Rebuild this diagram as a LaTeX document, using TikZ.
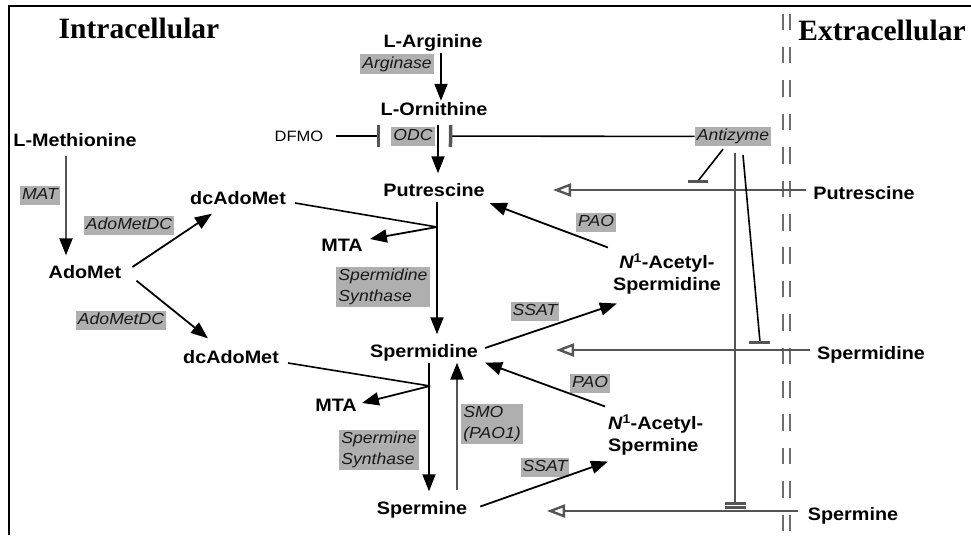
\documentclass[tikz,border=0pt]{standalone}
\usepackage{fontspec}
\setmainfont{Liberation Serif}
\setsansfont{Liberation Sans}[FakeStretch=1.1]
\usepackage{tikz}
\usetikzlibrary{arrows.meta,calc}
\definecolor{grisboite}{RGB}{175,175,175}
\definecolor{grisfil}{RGB}{85,85,85}
\definecolor{grismemb}{RGB}{110,110,110}

\begin{document}
\begin{tikzpicture}[x=1pt,y=-1pt,
    metab/.style={font=\sffamily\bfseries\fontsize{18}{22}\selectfont,inner sep=1pt,text height=13pt,text depth=4pt},
    metabdeux/.style={font=\sffamily\bfseries\fontsize{18}{22}\selectfont,inner sep=1pt},
    enz/.style={fill=grisboite,font=\sffamily\itshape\fontsize{16}{21}\selectfont,inner sep=2pt,text height=11.5pt,text depth=3.5pt,text=black!90},
    enzdeux/.style={fill=grisboite,font=\sffamily\itshape\fontsize{16}{21}\selectfont,inner sep=2pt,align=left,text=black!90},
    titre/.style={font=\bfseries\fontsize{29.5}{32}\selectfont,inner sep=0pt},
    rx/.style={-{Triangle[length=17pt,width=13pt]},line width=1.8pt},
    rxg/.style={-{Triangle[length=17pt,width=13pt,color=black]},line width=2.3pt,grisfil},
    lien/.style={line width=1.6pt},
    transp/.style={-{Triangle[open,length=18pt,width=13pt,fill=white]},line width=2.4pt,grisfil},
    inhib/.style={-{Bar[width=22pt,line width=3.5pt,color=grisfil]},line width=1.6pt},
    barre/.style={line width=3pt,grisfil},
    memb/.style={line width=2.5pt,grismemb,dash pattern=on 16.5pt off 16.9pt,dash phase=25.8pt}]
  \useasboundingbox (0,0) rectangle (971,535);
  \draw[line width=1.5pt] (9,535) -- (9,6) -- (971,6);
  \draw[memb] (783,6) -- (783,535);
  \draw[memb] (790,6) -- (790,535);

  \node[titre] (intra) at (139,28) {Intracellular};
  \node[titre] (extra) at (882,30) {Extracellular};

  \node[metab] (arg) at (433,43) {L-Arginine};
  \node[metab] (orn) at (434,110.5) {L-Ornithine};
  \node[metab] (putr) at (434,192) {Putrescine};
  \node[metab] (met) at (75,142) {L-Methionine};
  \node[metab] (adomet) at (85,274) {AdoMet};
  \node[metab] (dcA1) at (238,200) {dcAdoMet};
  \node[metab] (mta1) at (342,247) {MTA};
  \node[metab] (spd) at (424,353) {Spermidine};
  \node[metab] (dcA2) at (231,359) {dcAdoMet};
  \node[metab] (mta2) at (336,407) {MTA};
  \node[metab] (spm) at (422,509.5) {Spermine};
  \node[metabdeux,align=center] (acspd) at (667,274) {{\itshape N}\textsuperscript{1}-Acetyl-\\Spermidine};
  \node[metabdeux,align=left,anchor=west] (acspm) at (607,435) {{\itshape N}\textsuperscript{1}-Acetyl-\\Spermine};
  \node[metab] (putrX) at (864,194.5) {Putrescine};
  \node[metab] (spdX) at (871,355) {Spermidine};
  \node[metab] (spmX) at (853,516) {Spermine};
  \node[font=\sffamily\fontsize{15}{17}\selectfont,inner sep=1pt] (dfmo) at (299,136) {DFMO};

  \node[enz] (arginase) at (397,64) {Arginase};
  \node[enz] (odc) at (413,136) {ODC};
  \node[enz] (antiz) at (733,136.5) {Antizyme};
  \node[enz] (mat) at (40,195) {MAT};
  \node[enz] (adc1) at (129,225) {AdoMetDC};
  \node[enz] (adc2) at (121,320) {AdoMetDC};
  \node[enzdeux] (spdsyn) at (383,287) {Spermidine\\Synthase};
  \node[enzdeux] (spmsyn) at (379,450) {Spermine\\Synthase};
  \node[enz] (ssat1) at (535,311) {SSAT};
  \node[enz] (ssat2) at (545,467) {SSAT};
  \node[enz] (pao1) at (596,222) {PAO};
  \node[enz] (pao2) at (590,383) {PAO};
  \node[enzdeux] (smo) at (492,424) {SMO\\(PAO1)};

  \draw[rx] ([xshift=8pt]arg.south) -- ([xshift=7pt]orn.north);
  \draw[rx,shorten <=5pt,shorten >=9pt] ([xshift=4pt]orn.south) -- ([xshift=4pt]putr.north);
  \draw[inhib,shorten <=12pt,shorten >=11pt] (dfmo) -- (odc);
  \draw[inhib,shorten >=14pt] (antiz) -- (odc);

  \draw[rxg,shorten <=4pt,shorten >=9pt] ([xshift=-9pt]met.south) -- ([xshift=-19pt]adomet.north);
  \draw[rx] ([xshift=10pt,yshift=7pt]adomet.east) -- ([xshift=23pt,yshift=-4pt]dcA1.south west);
  \draw[rx] ([xshift=14pt,yshift=3pt]adomet.south east) -- ([xshift=26pt,yshift=11pt]dcA2.north west);

  \coordinate (j1) at (437,227);
  \draw[lien] ([xshift=8pt,yshift=-3pt]dcA1.east) -- (j1);
  \draw[rx] (j1) -- ([xshift=6pt,yshift=8pt]mta1.east);
  \draw[rx,shorten >=9pt] ([xshift=3pt]putr.south) -- ([xshift=13pt]spd.north);

  \coordinate (j2) at (430,386);
  \draw[lien] ([xshift=8pt,yshift=-4pt]dcA2.east) -- (j2);
  \draw[rx] (j2) -- ([xshift=4pt,yshift=4pt]mta2.east);
  \draw[rx,shorten >=8.5pt] ([xshift=5pt]spd.south) -- ([xshift=7pt]spm.north);
  \draw[rxg,shorten <=10pt] ([xshift=35pt]spm.north) -- ([xshift=33pt]spd.south);

  \draw[rx] ([xshift=6pt,yshift=5pt]spd.east) -- ([xshift=5pt,yshift=-8pt]acspd.south west);
  \draw[rx] ([xshift=-4pt,yshift=5pt]acspd.north west) -- ([xshift=4pt,yshift=-1.5pt]putr.south east);
  \draw[rx] ([xshift=12pt,yshift=3pt]spm.east) -- ([xshift=1pt,yshift=-5pt]acspm.south west);
  \draw[rx] ([xshift=-2pt,yshift=7pt]acspm.north west) -- ([xshift=6pt]spd.south east);

  \coordinate (tP) at (553,190);
  \coordinate (tD) at (556,350);
  \coordinate (tM) at (547,511);
  \draw[transp] ([xshift=-6pt,yshift=4.5pt]putrX.west) -- (tP);
  \draw[transp] ([xshift=-6pt,yshift=5pt]spdX.west) -- (tD);
  \draw[transp] ([xshift=-9pt,yshift=5pt]spmX.west) -- (tM);

  \coordinate (bP) at (698,181);
  \coordinate (bM) at (735,503);
  \coordinate (bD) at (760,342);
  \draw[lien] ([xshift=-10pt,yshift=-3pt]antiz.south) -- (bP);
  \draw[barre] ([xshift=-10pt]bP) -- ([xshift=10pt]bP);
  \draw[line width=2.4pt,grisfil] ([xshift=2pt,yshift=-7pt]antiz.south) -- (bM);
  \draw[barre] ([xshift=-10pt]bM) -- ([xshift=11pt]bM);
  \draw[barre] ([xshift=-10pt,yshift=-4pt]bM) -- ([xshift=11pt,yshift=-4pt]bM);
  \draw[lien] ([xshift=10pt,yshift=-9pt]antiz.south) -- (bD);
  \draw[barre] ([xshift=-11pt]bD) -- ([xshift=10pt]bD);
\end{tikzpicture}
\end{document}
